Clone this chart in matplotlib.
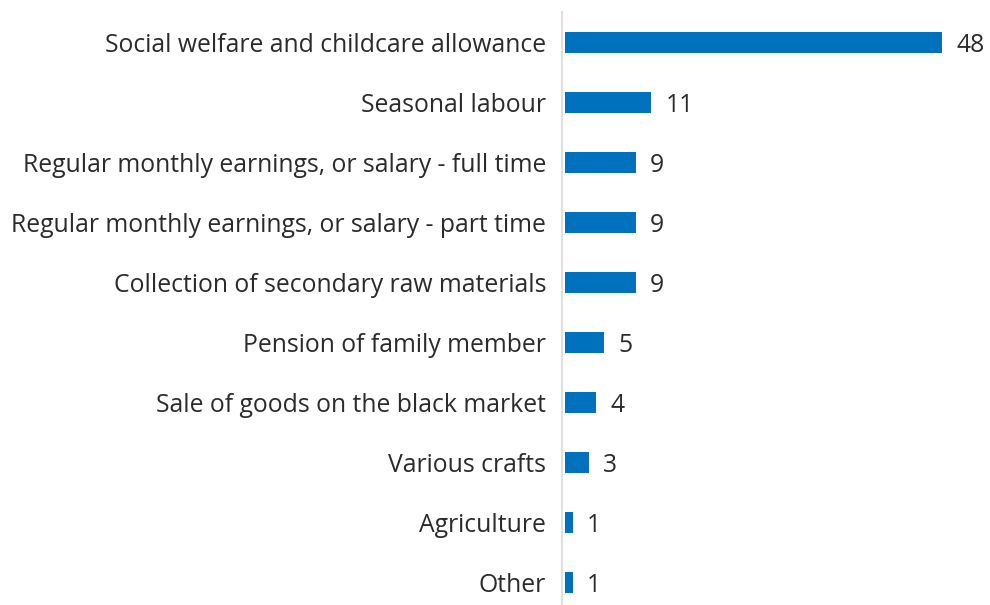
import matplotlib
matplotlib.use("Agg")
import matplotlib.pyplot as plt
from matplotlib.transforms import offset_copy

categories = [
    "Social welfare and childcare allowance",
    "Seasonal labour",
    "Regular monthly earnings, or salary - full time",
    "Regular monthly earnings, or salary - part time",
    "Collection of secondary raw materials",
    "Pension of family member",
    "Sale of goods on the black market",
    "Various crafts",
    "Agriculture",
    "Other",
]
values = [48, 11, 9, 9, 9, 5, 4, 3, 1, 1]

BAR_COLOR = "#0071BD"
TEXT_COLOR = "#2b2b2b"
FONT_SIZE = 17.8
plt.rcParams["font.family"] = ["Open Sans", "DejaVu Sans"]

W, H, DPI = 990, 605, 100
fig = plt.figure(figsize=(W / DPI, H / DPI), dpi=DPI)
left_px, right_px, top_px, bottom_px = 565, 985, 12, 605
ax = fig.add_axes([left_px / W, 1 - bottom_px / H,
                   (right_px - left_px) / W, (bottom_px - top_px) / H])

pos = list(range(len(categories)))
ax.barh(pos, values, height=0.35, color=BAR_COLOR)

px_per_unit = (942 - 565) / 48
ax.set_xlim(0, (right_px - left_px) / px_per_unit)
ax.set_ylim((bottom_px - 42) / 60, (top_px - 42) / 60)

for p, v in zip(pos, values):
    ax.text(v, p, str(v), transform=offset_copy(ax.transData, fig=fig, x=14, y=0, units="dots"),
            ha="left", va="center_baseline", fontsize=FONT_SIZE, color=TEXT_COLOR)

ax.set_yticks(pos)
ax.set_yticklabels(categories, va="center_baseline")
ax.tick_params(axis="y", length=0, pad=11.5, labelsize=FONT_SIZE, labelcolor=TEXT_COLOR)
ax.set_xticks([])

for s in ("top", "right", "bottom"):
    ax.spines[s].set_visible(False)
ax.spines["left"].set_position(("outward", 2))
ax.spines["left"].set_color("#e0e0e0")
ax.spines["left"].set_linewidth(1.5)

fig.savefig("out.png", dpi=DPI)
